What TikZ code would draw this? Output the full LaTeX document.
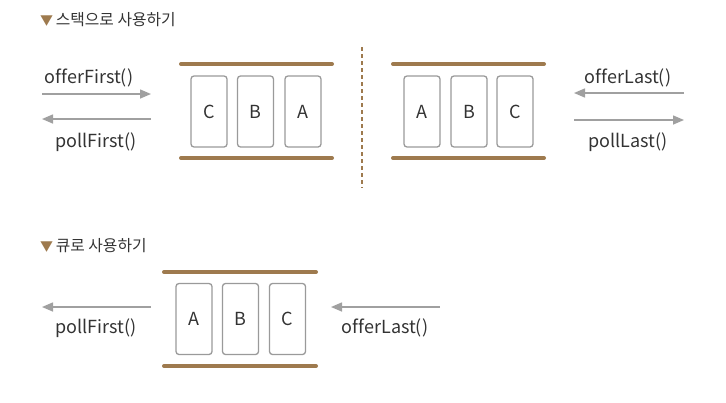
\documentclass[tikz,border=0pt]{standalone}
\usepackage{fontspec}
\setmainfont{Noto Sans CJK KR}[Ligatures=NoCommon]
\usetikzlibrary{arrows.meta,positioning}
\definecolor{barbrown}{HTML}{9E7A4E}
\definecolor{boxgray}{HTML}{9A9A9A}
\definecolor{arrgray}{HTML}{A0A0A0}
\definecolor{txtgray}{HTML}{333333}

\begin{document}
\begin{tikzpicture}[x=1pt,y=-1pt,
 cell/.style={rounded corners=3pt,draw=boxgray,line width=1.3pt,minimum width=36pt,
   minimum height=71pt,inner sep=0pt,font=\fontsize{18}{20}\selectfont,text=txtgray},
 bar/.style={line width=4pt,barbrown,line cap=round},
 a/.style={-{Triangle[length=11pt,width=9pt]},line width=1.5pt,arrgray},
 lbl/.style={font=\fontsize{18}{20}\selectfont,text=txtgray,inner sep=0pt},
 ttl/.style={font=\fontsize{15.8}{18}\selectfont,text=txtgray,anchor=west,inner sep=0pt}]
\useasboundingbox (0,0) rectangle (726,402);
% headings
\node[ttl] (t1) at (40,20) {\textcolor{barbrown}{\fontsize{13}{14}\selectfont▼}\,스택으로 사용하기};
\node[ttl] (t2) at (40,246) {\textcolor{barbrown}{\fontsize{13}{14}\selectfont▼}\,큐로 사용하기};
% stack, front side
\draw[bar] (181,64) -- (332,64);
\draw[bar] (181,158) -- (332,158);
\foreach \l/\x in {C/209,B/255.5,A/303}
  \node[cell] (f\l) at (\x,111.5) {\l};
\coordinate (ofa) at (42,94); \coordinate (ofb) at (151,94);
\coordinate (pfa) at (151,119); \coordinate (pfb) at (42,119);
\draw[a] (ofa) -- (ofb);
\draw[a] (pfa) -- (pfb);
\node[lbl] (offf) at (89,78) {offerFirst()};
\node[lbl] (pollf) at (96,142) {pollFirst()};
% separator
\coordinate (sep1) at (362,47); \coordinate (sep2) at (362,188);
\draw[barbrown,line width=1.2pt,dash pattern=on 4pt off 3pt] (sep1) -- (sep2);
% stack, back side
\draw[bar] (393,64) -- (544,64);
\draw[bar] (393,158) -- (544,158);
\foreach \l/\x in {A/422,B/469,C/515}
  \node[cell] (l\l) at (\x,111.5) {\l};
\coordinate (ola) at (684,93); \coordinate (olb) at (574,93);
\coordinate (pla) at (574,120); \coordinate (plb) at (684,120);
\draw[a] (ola) -- (olb);
\draw[a] (pla) -- (plb);
\node[lbl] (offl) at (628,78) {offerLast()};
\node[lbl] (polll) at (628,142) {pollLast()};
% queue
\draw[bar] (164,272) -- (316,272);
\draw[bar] (164,366) -- (316,366);
\foreach \l/\x in {A/194,B/240.5,C/287.5}
  \node[cell] (q\l) at (\x,319) {\l};
\coordinate (qpa) at (151,307); \coordinate (qpb) at (42,307);
\coordinate (qoa) at (440,307); \coordinate (qob) at (331,307);
\draw[a] (qpa) -- (qpb);
\draw[a] (qoa) -- (qob);
\node[lbl] (qpoll) at (96,328) {pollFirst()};
\node[lbl] (qoff) at (385,328) {offerLast()};
\end{tikzpicture}
\end{document}
